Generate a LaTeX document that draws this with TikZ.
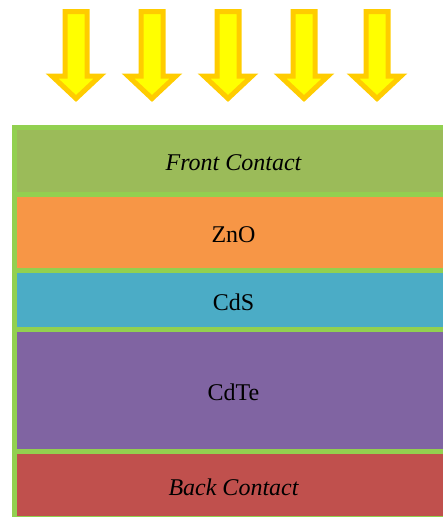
\documentclass[tikz,border=0pt]{standalone}
\usepackage{fontspec}
\setmainfont{Liberation Serif}
\usepackage{xcolor}
\usepackage{tikz}
\usetikzlibrary{calc}

\definecolor{framegreen}{HTML}{92D050}
\definecolor{frontcol}{HTML}{9BBB59}
\definecolor{znocol}{HTML}{F79646}
\definecolor{cdscol}{HTML}{4BACC6}
\definecolor{cdtecol}{HTML}{8064A2}
\definecolor{backcol}{HTML}{C0504D}
\definecolor{sunfill}{HTML}{FFFF00}
\definecolor{sunline}{HTML}{FFCC00}

\tikzset{
  layer/.style={draw=framegreen, line width=5pt, rectangle, inner sep=0pt, outer sep=0pt,
    minimum width=438pt, text height=21pt, text depth=1pt,
    font=\fontsize{24}{28}\selectfont},
  sunray/.style={draw=sunline, fill=sunfill, line width=5pt}
}

\begin{document}
\begin{tikzpicture}[x=1pt,y=-1pt]
\useasboundingbox (0,0) rectangle (442,517);

% Incoming light
\foreach \c in {76,152,228,304,377}{
  \draw[sunray] (\c-11,11.5) -- (\c+11,11.5) -- (\c+11,76) -- (\c+24,76)
    -- (\c,98.5) -- (\c-24,76) -- (\c-11,76) -- cycle;
}

% Layers
\node[layer, fill=frontcol, minimum height=66.5pt] (front) at (233.5,160.75) {\itshape Front Contact};
\node[layer, fill=znocol, minimum height=76.5pt] (zno) at (233.5,232.25) {ZnO};
\node[layer, fill=cdscol, minimum height=59pt] (cds) at (233.5,300) {CdS};
\node[layer, fill=cdtecol, minimum height=122pt] (cdte) at (233.5,390.5) {CdTe};
\node[layer, fill=backcol, minimum height=67pt] (back) at (233.5,485) {\itshape Back Contact};
\end{tikzpicture}
\end{document}
